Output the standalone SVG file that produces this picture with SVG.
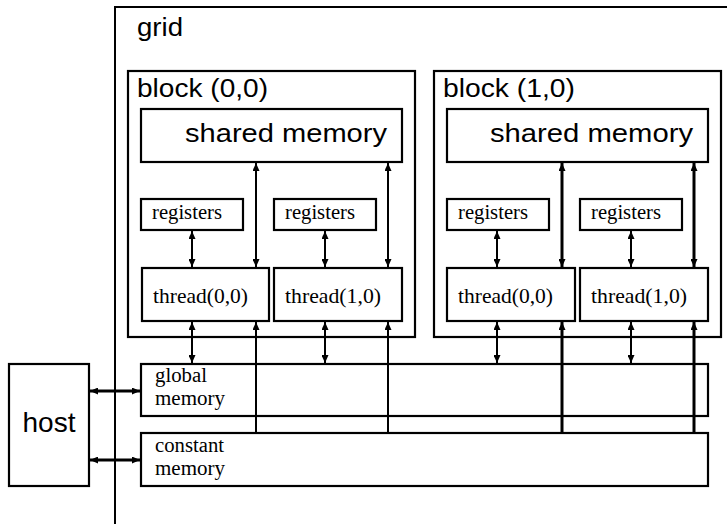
<svg xmlns="http://www.w3.org/2000/svg" width="727" height="524" viewBox="0 0 727 524">
<style>
  .box{fill:#fff;stroke:#000;stroke-width:2.2}
  .sans{font-family:"Liberation Sans",Arial,sans-serif;fill:#000}
  .serif{font-family:"Liberation Serif","Times New Roman",serif;fill:#000;font-size:21.5px}
  .mem{font-size:20.5px}
  .c{stroke:#000;stroke-width:2;fill:none}
  .c3{stroke:#000;stroke-width:3;fill:none}
</style>
<defs>
  <marker id="ah" markerUnits="userSpaceOnUse" markerWidth="9" markerHeight="7" refX="8" refY="3.5" orient="auto-start-reverse">
    <path d="M0,0 L8,3.5 L0,7 z" fill="#000"/>
  </marker>
</defs>
<rect width="727" height="524" fill="#fff"/>
<g id="grid">
  <path d="M115,524 V7 H727" class="c"/>
  <text class="sans" x="137" y="36" font-size="26" textLength="46" lengthAdjust="spacingAndGlyphs">grid</text>
</g>
<g id="block00">
  <rect class="box" x="128" y="71" width="287" height="266"/>
  <text class="sans" x="137" y="97" font-size="25" textLength="131" lengthAdjust="spacingAndGlyphs">block (0,0)</text>
</g>
<g id="block10">
  <rect class="box" x="434" y="71" width="287" height="266"/>
  <text class="sans" x="443" y="97" font-size="25" textLength="132" lengthAdjust="spacingAndGlyphs">block (1,0)</text>
</g>
<g id="shared00">
  <rect class="box" x="141" y="109" width="261" height="53"/>
  <text class="sans" x="185" y="142" font-size="26" textLength="202" lengthAdjust="spacingAndGlyphs">shared memory</text>
</g>
<g id="shared10">
  <rect class="box" x="447" y="109" width="261" height="53"/>
  <text class="sans" x="490" y="142" font-size="26" textLength="203" lengthAdjust="spacingAndGlyphs">shared memory</text>
</g>
<g id="reg00">
  <rect class="box" x="141" y="199" width="102" height="31"/>
  <text class="serif" x="152" y="219" textLength="70" lengthAdjust="spacingAndGlyphs">registers</text>
</g>
<g id="reg01">
  <rect class="box" x="274" y="199" width="102" height="31"/>
  <text class="serif" x="285" y="219" textLength="70" lengthAdjust="spacingAndGlyphs">registers</text>
</g>
<g id="reg10">
  <rect class="box" x="447" y="199" width="102" height="31"/>
  <text class="serif" x="458" y="219" textLength="70" lengthAdjust="spacingAndGlyphs">registers</text>
</g>
<g id="reg11">
  <rect class="box" x="580" y="199" width="102" height="31"/>
  <text class="serif" x="591" y="219" textLength="70" lengthAdjust="spacingAndGlyphs">registers</text>
</g>
<g id="thread00">
  <rect class="box" x="142" y="268" width="127" height="53"/>
  <text class="serif" x="153" y="303" textLength="95" lengthAdjust="spacingAndGlyphs">thread(0,0)</text>
</g>
<g id="thread01">
  <rect class="box" x="274" y="268" width="128" height="53"/>
  <text class="serif" x="285" y="303" textLength="96" lengthAdjust="spacingAndGlyphs">thread(1,0)</text>
</g>
<g id="thread10">
  <rect class="box" x="447" y="268" width="128" height="53"/>
  <text class="serif" x="458" y="303" textLength="95" lengthAdjust="spacingAndGlyphs">thread(0,0)</text>
</g>
<g id="thread11">
  <rect class="box" x="580" y="268" width="128" height="53"/>
  <text class="serif" x="591" y="303" textLength="96" lengthAdjust="spacingAndGlyphs">thread(1,0)</text>
</g>
<g id="global">
  <rect class="box" x="141" y="364" width="567" height="52"/>
  <text class="serif mem" x="155" y="382" textLength="52" lengthAdjust="spacingAndGlyphs">global</text>
  <text class="serif mem" x="155" y="405" textLength="70" lengthAdjust="spacingAndGlyphs">memory</text>
</g>
<g id="constant">
  <rect class="box" x="141" y="433" width="567" height="53"/>
  <text class="serif mem" x="155" y="452" textLength="69" lengthAdjust="spacingAndGlyphs">constant</text>
  <text class="serif mem" x="155" y="475" textLength="70" lengthAdjust="spacingAndGlyphs">memory</text>
</g>
<g id="host">
  <rect class="box" x="9" y="364" width="80" height="122"/>
  <text class="sans" x="22.5" y="432" font-size="28" textLength="53" lengthAdjust="spacingAndGlyphs">host</text>
</g>
<g id="connectors">
  <line class="c" x1="192" y1="231" x2="192" y2="267" marker-start="url(#ah)" marker-end="url(#ah)"/>
  <line class="c" x1="325" y1="231" x2="325" y2="267" marker-start="url(#ah)" marker-end="url(#ah)"/>
  <line class="c" x1="497" y1="231" x2="497" y2="267" marker-start="url(#ah)" marker-end="url(#ah)"/>
  <line class="c" x1="631" y1="231" x2="631" y2="267" marker-start="url(#ah)" marker-end="url(#ah)"/>
  <line class="c" x1="256" y1="163" x2="256" y2="267" marker-start="url(#ah)" marker-end="url(#ah)"/>
  <line class="c" x1="388" y1="163" x2="388" y2="267" marker-start="url(#ah)" marker-end="url(#ah)"/>
  <line class="c3" x1="562" y1="163" x2="562" y2="267" marker-start="url(#ah)" marker-end="url(#ah)"/>
  <line class="c3" x1="694" y1="163" x2="694" y2="267" marker-start="url(#ah)" marker-end="url(#ah)"/>
  <line class="c" x1="192" y1="322" x2="192" y2="363" marker-start="url(#ah)" marker-end="url(#ah)"/>
  <line class="c" x1="325" y1="322" x2="325" y2="363" marker-start="url(#ah)" marker-end="url(#ah)"/>
  <line class="c" x1="497" y1="322" x2="497" y2="363" marker-start="url(#ah)" marker-end="url(#ah)"/>
  <line class="c" x1="631" y1="322" x2="631" y2="363" marker-start="url(#ah)" marker-end="url(#ah)"/>
  <line class="c" x1="256" y1="433" x2="256" y2="322" marker-end="url(#ah)"/>
  <line class="c" x1="388" y1="433" x2="388" y2="322" marker-end="url(#ah)"/>
  <line class="c3" x1="562" y1="433" x2="562" y2="322" marker-end="url(#ah)"/>
  <line class="c3" x1="694" y1="433" x2="694" y2="322" marker-end="url(#ah)"/>
  <line class="c3" x1="90" y1="391" x2="140" y2="391" marker-start="url(#ah)" marker-end="url(#ah)"/>
  <line class="c3" x1="90" y1="460" x2="140" y2="460" marker-start="url(#ah)" marker-end="url(#ah)"/>
</g>
</svg>
